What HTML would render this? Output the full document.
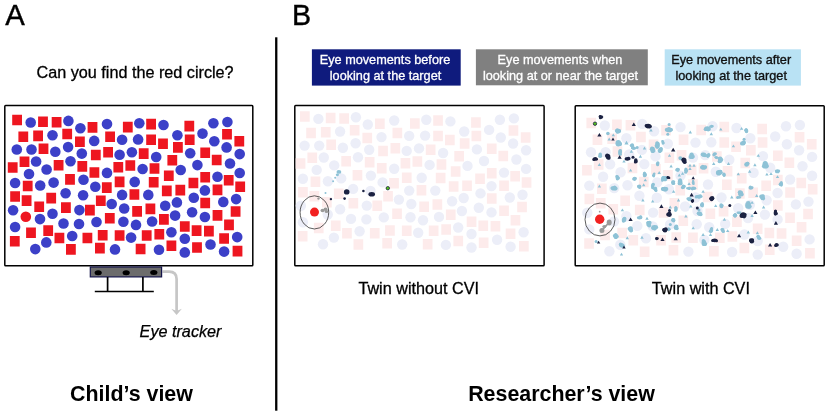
<!DOCTYPE html>
<html><head><meta charset="utf-8"><title>Figure</title>
<style>html,body{margin:0;padding:0;background:#fff}body{width:829px;height:415px;overflow:hidden}</style></head>
<body>
<svg width="829" height="415" viewBox="0 0 829 415" style="display:block;will-change:transform;font-family:'Liberation Sans',Arial,Helvetica,sans-serif">
<rect width="829" height="415" fill="#fff"/>
<text x="5.2" y="25.4" font-size="29.3" fill="#000" stroke="#000" stroke-width="0.4">A</text>
<text x="291.9" y="25.4" font-size="28.6" fill="#000" stroke="#000" stroke-width="0.4">B</text>
<text x="135.1" y="77.6" font-size="16.2" text-anchor="middle" fill="#000" stroke="#000" stroke-width="0.3">Can you find the red circle?</text>
<rect x="4.8" y="105.6" width="248" height="160.2" rx="0.8" fill="#fff" stroke="#000" stroke-width="1.5"/>
<path fill="#ee1620" d="M12.2 114.7h9.8v10.6h-9.8zM38.1 116.4h9.8v10.6h-9.8zM51.7 116.9h9.8v10.6h-9.8zM87.6 122.1h9.8v10.6h-9.8zM18.4 131.5h9.8v10.6h-9.8zM33.2 130.6h9.8v10.6h-9.8zM62.3 128.7h9.8v10.6h-9.8zM75 136.5h9.8v10.6h-9.8zM38.6 143.4h9.8v10.6h-9.8zM19.6 156.5h9.8v10.6h-9.8zM7.8 162.2h9.8v10.6h-9.8zM53.7 159.9h9.8v10.6h-9.8zM77.4 161.1h9.8v10.6h-9.8zM122.9 121.8h9.8v10.6h-9.8zM146.2 118.8h9.8v10.6h-9.8zM105.2 131.5h9.8v10.6h-9.8zM146.2 134.4h9.8v10.6h-9.8zM158.1 138.5h9.8v10.6h-9.8zM90.9 149.7h9.8v10.6h-9.8zM103.2 147h9.8v10.6h-9.8zM138.8 148.3h9.8v10.6h-9.8zM167.4 154.9h9.8v10.6h-9.8zM113.4 162h9.8v10.6h-9.8zM125.4 160.2h9.8v10.6h-9.8zM149.6 163.2h9.8v10.6h-9.8zM89.5 167.2h9.8v10.6h-9.8zM184.4 120.8h9.8v10.6h-9.8zM222.1 129h9.8v10.6h-9.8zM184.8 134.4h9.8v10.6h-9.8zM234.4 136h9.8v10.6h-9.8zM173 142.1h9.8v10.6h-9.8zM200.3 147.5h9.8v10.6h-9.8zM211.8 154.7h9.8v10.6h-9.8zM65.1 174.1h9.8v10.6h-9.8zM22.8 180.7h9.8v10.6h-9.8zM10.2 191.2h9.8v10.6h-9.8zM21.7 195.3h9.8v10.6h-9.8zM46.3 192.8h9.8v10.6h-9.8zM34.3 201.5h9.8v10.6h-9.8zM61 202.3h9.8v10.6h-9.8zM85 204.8h9.8v10.6h-9.8zM163.9 170.4h9.8v10.6h-9.8zM114.7 176.6h9.8v10.6h-9.8zM148.8 176.9h9.8v10.6h-9.8zM101.9 182.3h9.8v10.6h-9.8zM161.9 185.6h9.8v10.6h-9.8zM129.5 189.2h9.8v10.6h-9.8zM95.9 195.5h9.8v10.6h-9.8zM145.5 203.6h9.8v10.6h-9.8zM132.2 206.1h9.8v10.6h-9.8zM104.9 213h9.8v10.6h-9.8zM159 214.1h9.8v10.6h-9.8zM200.3 172h9.8v10.6h-9.8zM223.8 175h9.8v10.6h-9.8zM188.5 177.7h9.8v10.6h-9.8zM235.3 181.4h9.8v10.6h-9.8zM175.4 184.8h9.8v10.6h-9.8zM212.6 184.6h9.8v10.6h-9.8zM200.3 197.7h9.8v10.6h-9.8zM230.7 206.2h9.8v10.6h-9.8zM212.6 210.1h9.8v10.6h-9.8zM179.9 221.2h9.8v10.6h-9.8zM224.1 219.6h9.8v10.6h-9.8zM26.1 227.4h9.8v10.6h-9.8zM43.3 225.3h9.8v10.6h-9.8zM54.5 232.7h9.8v10.6h-9.8zM82.5 232.7h9.8v10.6h-9.8zM9.9 235.9h9.8v10.6h-9.8zM66 244.1h9.8v10.6h-9.8zM97.8 229.9h9.8v10.6h-9.8zM114.7 230.2h9.8v10.6h-9.8zM141.8 230.2h9.8v10.6h-9.8zM154.4 228.9h9.8v10.6h-9.8zM166.5 240.5h9.8v10.6h-9.8zM95 242.8h9.8v10.6h-9.8zM135.7 243.7h9.8v10.6h-9.8zM191.7 225.3h9.8v10.6h-9.8zM204 225.8h9.8v10.6h-9.8zM219.2 233.2h9.8v10.6h-9.8zM192.1 242.2h9.8v10.6h-9.8zM232.6 245.8h9.8v10.6h-9.8z"/>
<g fill="#3c40c8">
<circle cx="30.7" cy="122.5" r="5.3"/>
<circle cx="68.4" cy="120.9" r="5.3"/>
<circle cx="80.4" cy="128.2" r="5.3"/>
<circle cx="52.5" cy="135.3" r="5.3"/>
<circle cx="16.8" cy="149.5" r="5.3"/>
<circle cx="31.5" cy="149.5" r="5.3"/>
<circle cx="55.3" cy="151.7" r="5.3"/>
<circle cx="68.1" cy="147.1" r="5.3"/>
<circle cx="81.8" cy="153.6" r="5.3"/>
<circle cx="36.1" cy="161.5" r="5.3"/>
<circle cx="70.5" cy="161.3" r="5.3"/>
<circle cx="46.6" cy="169.5" r="5.3"/>
<circle cx="107" cy="124.1" r="5.3"/>
<circle cx="139.3" cy="123.3" r="5.3"/>
<circle cx="163.5" cy="125" r="5.3"/>
<circle cx="94.2" cy="140.9" r="5.3"/>
<circle cx="122.1" cy="139.7" r="5.3"/>
<circle cx="138.1" cy="139.4" r="5.3"/>
<circle cx="119.6" cy="154.8" r="5.3"/>
<circle cx="131.9" cy="152.3" r="5.3"/>
<circle cx="156.2" cy="157" r="5.3"/>
<circle cx="142.6" cy="169" r="5.3"/>
<circle cx="107" cy="172.9" r="5.3"/>
<circle cx="213.4" cy="123.3" r="5.3"/>
<circle cx="227.4" cy="122" r="5.3"/>
<circle cx="177.4" cy="135.3" r="5.3"/>
<circle cx="202.5" cy="133.6" r="5.3"/>
<circle cx="214.3" cy="141.3" r="5.3"/>
<circle cx="226.6" cy="147.4" r="5.3"/>
<circle cx="190.2" cy="153.3" r="5.3"/>
<circle cx="239.7" cy="154.1" r="5.3"/>
<circle cx="230" cy="163.5" r="5.3"/>
<circle cx="197.4" cy="165.1" r="5.3"/>
<circle cx="180.7" cy="170" r="5.3"/>
<circle cx="239.7" cy="173" r="5.3"/>
<circle cx="29" cy="174" r="5.3"/>
<circle cx="83.5" cy="179.8" r="5.3"/>
<circle cx="15.1" cy="183" r="5.3"/>
<circle cx="40.2" cy="185.5" r="5.3"/>
<circle cx="53.6" cy="182.6" r="5.3"/>
<circle cx="65.6" cy="193.2" r="5.3"/>
<circle cx="83.1" cy="195.3" r="5.3"/>
<circle cx="13.1" cy="210.2" r="5.3"/>
<circle cx="79.4" cy="210.1" r="5.3"/>
<circle cx="52.5" cy="213.8" r="5.3"/>
<circle cx="40" cy="219.1" r="5.3"/>
<circle cx="63.5" cy="223.5" r="5.3"/>
<circle cx="134.7" cy="181.9" r="5.3"/>
<circle cx="95.3" cy="186.7" r="5.3"/>
<circle cx="122.1" cy="194.9" r="5.3"/>
<circle cx="148.3" cy="194.9" r="5.3"/>
<circle cx="111.7" cy="204" r="5.3"/>
<circle cx="165.2" cy="205.7" r="5.3"/>
<circle cx="176.9" cy="202.4" r="5.3"/>
<circle cx="124.2" cy="208.5" r="5.3"/>
<circle cx="175.1" cy="215.6" r="5.3"/>
<circle cx="96.5" cy="222" r="5.3"/>
<circle cx="123.4" cy="221.8" r="5.3"/>
<circle cx="152.1" cy="221.5" r="5.3"/>
<circle cx="136" cy="224.9" r="5.3"/>
<circle cx="217.5" cy="176.8" r="5.3"/>
<circle cx="204.9" cy="190.4" r="5.3"/>
<circle cx="193.8" cy="197.8" r="5.3"/>
<circle cx="236.1" cy="199.1" r="5.3"/>
<circle cx="223.3" cy="201.9" r="5.3"/>
<circle cx="192.1" cy="212.2" r="5.3"/>
<circle cx="204.9" cy="217" r="5.3"/>
<circle cx="79" cy="224" r="5.3"/>
<circle cx="15.1" cy="227" r="5.3"/>
<circle cx="72.2" cy="236" r="5.3"/>
<circle cx="46.3" cy="242.4" r="5.3"/>
<circle cx="35.3" cy="249.1" r="5.3"/>
<circle cx="171.4" cy="232.2" r="5.3"/>
<circle cx="131.1" cy="237.6" r="5.3"/>
<circle cx="115" cy="249.4" r="5.3"/>
<circle cx="159" cy="249.8" r="5.3"/>
<circle cx="184.8" cy="238.8" r="5.3"/>
<circle cx="237.2" cy="237.1" r="5.3"/>
<circle cx="210.5" cy="244.5" r="5.3"/>
<circle cx="184.8" cy="252.4" r="5.3"/>
<circle cx="224.1" cy="251.6" r="5.3"/>
</g>
<circle cx="25.8" cy="216.7" r="5.3" fill="#ee1620"/>
<path d="M162.5 271.6h6.6q7.5 0 7.5 7.5v32" fill="none" stroke="#c6c6c6" stroke-width="2.7"/>
<path d="M176.6 315l-5.3-6.3l5.3 2.2l5.3-2.2z" fill="#c6c6c6"/>
<rect x="90.3" y="267" width="71.3" height="9.9" fill="#6c6c6c" stroke="#14144a" stroke-width="1.2"/>
<g fill="#000"><ellipse cx="98.2" cy="272.7" rx="3.6" ry="2.5"/><ellipse cx="126.2" cy="272.7" rx="3.6" ry="2.5"/><ellipse cx="153.8" cy="272.5" rx="3.6" ry="2.5"/></g>
<path d="M107.6 277v14.5M142.9 277v14.5M94.8 291.5h59" fill="none" stroke="#000" stroke-width="1.7"/>
<text x="139.6" y="336.6" font-size="16.2" font-style="italic" fill="#000" stroke="#000" stroke-width="0.25">Eye tracker</text>
<text x="131.5" y="401.2" font-size="21.4" font-weight="bold" text-anchor="middle" fill="#000">Child’s view</text>
<rect x="275.1" y="37.3" width="2.3" height="373.4" fill="#000"/>
<rect x="311.9" y="49.3" width="148.8" height="36.3" fill="#0f1b7d"/>
<rect x="475.9" y="49.3" width="171.9" height="36" fill="#808080"/>
<rect x="664.7" y="49.3" width="136.2" height="36.3" fill="#b9e2f4"/>
<g font-size="12.7" text-anchor="middle">
<g fill="#fff" stroke="#fff" stroke-width="0.3"><text x="385" y="64.3">Eye movements before</text><text x="385.5" y="79.7">looking at the target</text>
<text x="560" y="64.3">Eye movements when</text><text x="560.5" y="79.7">looking at or near the target</text></g>
<g fill="#111" stroke="#111" stroke-width="0.35"><text x="731.2" y="64.3">Eye movements after</text><text x="731.2" y="79.7">looking at the target</text></g>
</g>
<rect x="294.8" y="105.6" width="249.3" height="160.1" rx="0.8" fill="#fff" stroke="#000" stroke-width="1.5"/>
<path fill="#fdebeb" d="M300 111.2h9.7v10.5h-9.7zM325.8 112.8h9.7v10.5h-9.7zM339.3 113.3h9.7v10.5h-9.7zM375 118.5h9.7v10.5h-9.7zM306.2 127.8h9.7v10.5h-9.7zM320.9 126.9h9.7v10.5h-9.7zM349.8 125h9.7v10.5h-9.7zM362.4 132.7h9.7v10.5h-9.7zM326.3 139.6h9.7v10.5h-9.7zM307.4 152.5h9.7v10.5h-9.7zM295.7 158.2h9.7v10.5h-9.7zM341.3 155.9h9.7v10.5h-9.7zM364.8 157.1h9.7v10.5h-9.7zM410 118.2h9.7v10.5h-9.7zM433.2 115.2h9.7v10.5h-9.7zM392.5 127.8h9.7v10.5h-9.7zM433.2 130.7h9.7v10.5h-9.7zM445 134.7h9.7v10.5h-9.7zM378.2 145.8h9.7v10.5h-9.7zM390.5 143.1h9.7v10.5h-9.7zM425.8 144.4h9.7v10.5h-9.7zM454.3 151h9.7v10.5h-9.7zM400.6 158h9.7v10.5h-9.7zM412.5 156.2h9.7v10.5h-9.7zM436.6 159.2h9.7v10.5h-9.7zM376.9 163.1h9.7v10.5h-9.7zM471.1 117.2h9.7v10.5h-9.7zM508.6 125.3h9.7v10.5h-9.7zM471.5 130.7h9.7v10.5h-9.7zM520.8 132.2h9.7v10.5h-9.7zM459.8 138.3h9.7v10.5h-9.7zM486.9 143.6h9.7v10.5h-9.7zM498.4 150.8h9.7v10.5h-9.7zM352.6 170h9.7v10.5h-9.7zM310.6 176.5h9.7v10.5h-9.7zM298.1 186.9h9.7v10.5h-9.7zM309.5 190.9h9.7v10.5h-9.7zM333.9 188.5h9.7v10.5h-9.7zM322 197.1h9.7v10.5h-9.7zM348.5 197.9h9.7v10.5h-9.7zM372.4 200.4h9.7v10.5h-9.7zM450.8 166.3h9.7v10.5h-9.7zM401.9 172.4h9.7v10.5h-9.7zM435.8 172.7h9.7v10.5h-9.7zM389.2 178.1h9.7v10.5h-9.7zM448.8 181.3h9.7v10.5h-9.7zM416.6 184.9h9.7v10.5h-9.7zM383.2 191.1h9.7v10.5h-9.7zM432.5 199.2h9.7v10.5h-9.7zM419.3 201.6h9.7v10.5h-9.7zM392.2 208.5h9.7v10.5h-9.7zM445.9 209.6h9.7v10.5h-9.7zM486.9 167.9h9.7v10.5h-9.7zM510.3 170.9h9.7v10.5h-9.7zM475.2 173.5h9.7v10.5h-9.7zM521.7 177.2h9.7v10.5h-9.7zM462.2 180.6h9.7v10.5h-9.7zM499.2 180.4h9.7v10.5h-9.7zM486.9 193.3h9.7v10.5h-9.7zM517.2 201.7h9.7v10.5h-9.7zM499.2 205.6h9.7v10.5h-9.7zM466.7 216.6h9.7v10.5h-9.7zM510.6 215h9.7v10.5h-9.7zM313.9 222.7h9.7v10.5h-9.7zM330.9 220.6h9.7v10.5h-9.7zM342.1 228h9.7v10.5h-9.7zM369.9 228h9.7v10.5h-9.7zM297.8 231.1h9.7v10.5h-9.7zM353.5 239.3h9.7v10.5h-9.7zM385.1 225.2h9.7v10.5h-9.7zM401.9 225.5h9.7v10.5h-9.7zM428.8 225.5h9.7v10.5h-9.7zM441.3 224.2h9.7v10.5h-9.7zM453.4 235.7h9.7v10.5h-9.7zM382.3 238h9.7v10.5h-9.7zM422.8 238.9h9.7v10.5h-9.7zM478.4 220.6h9.7v10.5h-9.7zM490.6 221.1h9.7v10.5h-9.7zM505.7 228.5h9.7v10.5h-9.7zM478.8 237.4h9.7v10.5h-9.7zM519 240.9h9.7v10.5h-9.7z"/>
<g fill="#eceef8">
<circle cx="318.4" cy="118.9" r="5.2"/>
<circle cx="355.9" cy="117.3" r="5.2"/>
<circle cx="367.8" cy="124.5" r="5.2"/>
<circle cx="340.1" cy="131.5" r="5.2"/>
<circle cx="304.6" cy="145.6" r="5.2"/>
<circle cx="319.2" cy="145.6" r="5.2"/>
<circle cx="342.9" cy="147.8" r="5.2"/>
<circle cx="355.6" cy="143.2" r="5.2"/>
<circle cx="369.2" cy="149.7" r="5.2"/>
<circle cx="323.8" cy="157.5" r="5.2"/>
<circle cx="358" cy="157.3" r="5.2"/>
<circle cx="334.2" cy="165.4" r="5.2"/>
<circle cx="394.2" cy="120.5" r="5.2"/>
<circle cx="426.3" cy="119.7" r="5.2"/>
<circle cx="450.4" cy="121.4" r="5.2"/>
<circle cx="381.5" cy="137.1" r="5.2"/>
<circle cx="409.2" cy="135.9" r="5.2"/>
<circle cx="425.1" cy="135.6" r="5.2"/>
<circle cx="406.7" cy="150.9" r="5.2"/>
<circle cx="419" cy="148.4" r="5.2"/>
<circle cx="443.1" cy="153" r="5.2"/>
<circle cx="429.6" cy="164.9" r="5.2"/>
<circle cx="394.2" cy="168.8" r="5.2"/>
<circle cx="499.9" cy="119.7" r="5.2"/>
<circle cx="513.9" cy="118.4" r="5.2"/>
<circle cx="464.2" cy="131.5" r="5.2"/>
<circle cx="489.1" cy="129.9" r="5.2"/>
<circle cx="500.8" cy="137.5" r="5.2"/>
<circle cx="513.1" cy="143.5" r="5.2"/>
<circle cx="476.9" cy="149.4" r="5.2"/>
<circle cx="526.1" cy="150.2" r="5.2"/>
<circle cx="516.4" cy="159.5" r="5.2"/>
<circle cx="484" cy="161" r="5.2"/>
<circle cx="467.5" cy="165.9" r="5.2"/>
<circle cx="526.1" cy="168.9" r="5.2"/>
<circle cx="316.7" cy="169.9" r="5.2"/>
<circle cx="370.9" cy="175.6" r="5.2"/>
<circle cx="302.9" cy="178.8" r="5.2"/>
<circle cx="327.9" cy="181.2" r="5.2"/>
<circle cx="341.2" cy="178.4" r="5.2"/>
<circle cx="353.1" cy="188.9" r="5.2"/>
<circle cx="370.5" cy="190.9" r="5.2"/>
<circle cx="300.9" cy="205.7" r="5.2"/>
<circle cx="366.8" cy="205.6" r="5.2"/>
<circle cx="340.1" cy="209.3" r="5.2"/>
<circle cx="327.7" cy="214.5" r="5.2"/>
<circle cx="351" cy="218.9" r="5.2"/>
<circle cx="421.7" cy="177.7" r="5.2"/>
<circle cx="382.6" cy="182.4" r="5.2"/>
<circle cx="409.2" cy="190.6" r="5.2"/>
<circle cx="435.3" cy="190.6" r="5.2"/>
<circle cx="398.9" cy="199.6" r="5.2"/>
<circle cx="452.1" cy="201.2" r="5.2"/>
<circle cx="463.7" cy="198" r="5.2"/>
<circle cx="411.3" cy="204" r="5.2"/>
<circle cx="461.9" cy="211" r="5.2"/>
<circle cx="383.8" cy="217.4" r="5.2"/>
<circle cx="410.5" cy="217.2" r="5.2"/>
<circle cx="439" cy="216.9" r="5.2"/>
<circle cx="423" cy="220.3" r="5.2"/>
<circle cx="504" cy="172.6" r="5.2"/>
<circle cx="491.5" cy="186.1" r="5.2"/>
<circle cx="480.5" cy="193.4" r="5.2"/>
<circle cx="522.5" cy="194.7" r="5.2"/>
<circle cx="509.8" cy="197.5" r="5.2"/>
<circle cx="478.8" cy="207.7" r="5.2"/>
<circle cx="491.5" cy="212.4" r="5.2"/>
<circle cx="366.4" cy="219.4" r="5.2"/>
<circle cx="302.9" cy="222.3" r="5.2"/>
<circle cx="359.6" cy="231.2" r="5.2"/>
<circle cx="333.9" cy="237.6" r="5.2"/>
<circle cx="323" cy="244.2" r="5.2"/>
<circle cx="458.2" cy="227.5" r="5.2"/>
<circle cx="418.2" cy="232.8" r="5.2"/>
<circle cx="402.2" cy="244.5" r="5.2"/>
<circle cx="445.9" cy="244.9" r="5.2"/>
<circle cx="471.5" cy="234" r="5.2"/>
<circle cx="523.6" cy="232.3" r="5.2"/>
<circle cx="497.1" cy="239.7" r="5.2"/>
<circle cx="471.5" cy="247.5" r="5.2"/>
<circle cx="510.6" cy="246.7" r="5.2"/>
</g>
<ellipse cx="314.4" cy="212.4" rx="14.3" ry="16.6" fill="none" stroke="#333" stroke-width="0.8"/>
<circle cx="314.5" cy="212.1" r="4.5" fill="#f22020"/>
<g fill="#9a9a9a"><ellipse cx="322.5" cy="210.5" rx="2" ry="1.8"/><ellipse cx="325.5" cy="209.3" rx="2" ry="1.8"/><ellipse cx="326.5" cy="211.5" rx="1.8" ry="1.6"/><circle cx="318.5" cy="198.6" r="1.2"/></g>
<g fill="#8ec2d6"><ellipse cx="338.9" cy="171.9" rx="2.4" ry="1.9"/><ellipse cx="337.4" cy="174.8" rx="1.6" ry="1.4"/><circle cx="335.2" cy="177.8" r="1"/><circle cx="333.1" cy="181.3" r="1"/><circle cx="325.5" cy="193" r="1"/></g>
<g fill="#1b2242"><circle cx="330.9" cy="199.1" r="1.2"/><ellipse cx="346.7" cy="191.9" rx="2.8" ry="2.6"/><circle cx="344.6" cy="198.6" r="1.3"/><circle cx="363.4" cy="191" r="1.3"/><ellipse cx="371.7" cy="194.3" rx="3.3" ry="2.3"/></g>
<circle cx="387.8" cy="188.2" r="1.7" fill="#56c21e" stroke="#1b2242" stroke-width="0.8"/>
<text x="418.7" y="293.9" font-size="16.2" text-anchor="middle" fill="#000" stroke="#000" stroke-width="0.3">Twin without CVI</text>
<rect x="575.2" y="105.7" width="249" height="160.1" rx="0.8" fill="#fff" stroke="#000" stroke-width="1.5"/>
<path fill="#fdebeb" d="M586.4 117.8h9.7v10.5h-9.7zM612.1 119.4h9.7v10.5h-9.7zM625.6 119.9h9.7v10.5h-9.7zM661.2 125.1h9.7v10.5h-9.7zM592.6 134.5h9.7v10.5h-9.7zM607.3 133.6h9.7v10.5h-9.7zM636.1 131.7h9.7v10.5h-9.7zM648.7 139.4h9.7v10.5h-9.7zM612.6 146.3h9.7v10.5h-9.7zM593.8 159.3h9.7v10.5h-9.7zM582.1 165h9.7v10.5h-9.7zM627.6 162.7h9.7v10.5h-9.7zM651.1 163.9h9.7v10.5h-9.7zM696.3 124.8h9.7v10.5h-9.7zM719.4 121.8h9.7v10.5h-9.7zM678.7 134.5h9.7v10.5h-9.7zM719.4 137.3h9.7v10.5h-9.7zM731.2 141.4h9.7v10.5h-9.7zM664.5 152.5h9.7v10.5h-9.7zM676.7 149.9h9.7v10.5h-9.7zM712 151.2h9.7v10.5h-9.7zM740.4 157.7h9.7v10.5h-9.7zM686.8 164.8h9.7v10.5h-9.7zM698.7 163h9.7v10.5h-9.7zM722.7 166h9.7v10.5h-9.7zM663.1 169.9h9.7v10.5h-9.7zM757.3 123.8h9.7v10.5h-9.7zM794.7 132h9.7v10.5h-9.7zM757.7 137.3h9.7v10.5h-9.7zM806.9 138.9h9.7v10.5h-9.7zM746 145h9.7v10.5h-9.7zM773 150.4h9.7v10.5h-9.7zM784.5 157.5h9.7v10.5h-9.7zM638.9 176.8h9.7v10.5h-9.7zM597 183.4h9.7v10.5h-9.7zM584.5 193.8h9.7v10.5h-9.7zM595.9 197.9h9.7v10.5h-9.7zM620.3 195.4h9.7v10.5h-9.7zM608.4 204h9.7v10.5h-9.7zM634.9 204.8h9.7v10.5h-9.7zM658.7 207.3h9.7v10.5h-9.7zM736.9 173.1h9.7v10.5h-9.7zM688.1 179.3h9.7v10.5h-9.7zM722 179.6h9.7v10.5h-9.7zM675.4 184.9h9.7v10.5h-9.7zM735 188.2h9.7v10.5h-9.7zM702.8 191.8h9.7v10.5h-9.7zM669.5 198.1h9.7v10.5h-9.7zM718.7 206.1h9.7v10.5h-9.7zM705.5 208.6h9.7v10.5h-9.7zM678.4 215.5h9.7v10.5h-9.7zM732.1 216.6h9.7v10.5h-9.7zM773 174.7h9.7v10.5h-9.7zM796.4 177.7h9.7v10.5h-9.7zM761.3 180.4h9.7v10.5h-9.7zM807.8 184.1h9.7v10.5h-9.7zM748.3 187.4h9.7v10.5h-9.7zM785.2 187.2h9.7v10.5h-9.7zM773 200.3h9.7v10.5h-9.7zM803.2 208.7h9.7v10.5h-9.7zM785.2 212.6h9.7v10.5h-9.7zM752.8 223.6h9.7v10.5h-9.7zM796.7 222h9.7v10.5h-9.7zM600.2 229.8h9.7v10.5h-9.7zM617.3 227.7h9.7v10.5h-9.7zM628.4 235h9.7v10.5h-9.7zM656.2 235h9.7v10.5h-9.7zM584.2 238.2h9.7v10.5h-9.7zM639.8 246.4h9.7v10.5h-9.7zM671.4 232.3h9.7v10.5h-9.7zM688.1 232.6h9.7v10.5h-9.7zM715 232.6h9.7v10.5h-9.7zM727.5 231.3h9.7v10.5h-9.7zM739.5 242.8h9.7v10.5h-9.7zM668.6 245.1h9.7v10.5h-9.7zM709 246h9.7v10.5h-9.7zM764.5 227.7h9.7v10.5h-9.7zM776.7 228.2h9.7v10.5h-9.7zM791.8 235.5h9.7v10.5h-9.7zM764.9 244.5h9.7v10.5h-9.7zM805.1 248.1h9.7v10.5h-9.7z"/>
<g fill="#eceef8">
<circle cx="604.8" cy="125.5" r="5.2"/>
<circle cx="642.2" cy="123.9" r="5.2"/>
<circle cx="654.1" cy="131.2" r="5.2"/>
<circle cx="626.4" cy="138.2" r="5.2"/>
<circle cx="591" cy="152.3" r="5.2"/>
<circle cx="605.6" cy="152.3" r="5.2"/>
<circle cx="629.2" cy="154.5" r="5.2"/>
<circle cx="641.9" cy="149.9" r="5.2"/>
<circle cx="655.5" cy="156.4" r="5.2"/>
<circle cx="610.1" cy="164.3" r="5.2"/>
<circle cx="644.3" cy="164.1" r="5.2"/>
<circle cx="620.6" cy="172.2" r="5.2"/>
<circle cx="680.5" cy="127.1" r="5.2"/>
<circle cx="712.5" cy="126.3" r="5.2"/>
<circle cx="736.5" cy="128" r="5.2"/>
<circle cx="667.8" cy="143.8" r="5.2"/>
<circle cx="695.5" cy="142.6" r="5.2"/>
<circle cx="711.3" cy="142.3" r="5.2"/>
<circle cx="693" cy="157.6" r="5.2"/>
<circle cx="705.2" cy="155.1" r="5.2"/>
<circle cx="729.3" cy="159.8" r="5.2"/>
<circle cx="715.8" cy="171.7" r="5.2"/>
<circle cx="680.5" cy="175.6" r="5.2"/>
<circle cx="786" cy="126.3" r="5.2"/>
<circle cx="799.9" cy="125" r="5.2"/>
<circle cx="750.3" cy="138.2" r="5.2"/>
<circle cx="775.2" cy="136.5" r="5.2"/>
<circle cx="786.9" cy="144.2" r="5.2"/>
<circle cx="799.1" cy="150.2" r="5.2"/>
<circle cx="763" cy="156.1" r="5.2"/>
<circle cx="812.1" cy="156.9" r="5.2"/>
<circle cx="802.5" cy="166.2" r="5.2"/>
<circle cx="770.2" cy="167.8" r="5.2"/>
<circle cx="753.6" cy="172.7" r="5.2"/>
<circle cx="812.1" cy="175.7" r="5.2"/>
<circle cx="603.1" cy="176.7" r="5.2"/>
<circle cx="657.2" cy="182.4" r="5.2"/>
<circle cx="589.3" cy="185.6" r="5.2"/>
<circle cx="614.2" cy="188.1" r="5.2"/>
<circle cx="627.5" cy="185.2" r="5.2"/>
<circle cx="639.4" cy="195.8" r="5.2"/>
<circle cx="656.8" cy="197.8" r="5.2"/>
<circle cx="587.3" cy="212.7" r="5.2"/>
<circle cx="653.1" cy="212.6" r="5.2"/>
<circle cx="626.4" cy="216.2" r="5.2"/>
<circle cx="614" cy="221.5" r="5.2"/>
<circle cx="637.3" cy="225.9" r="5.2"/>
<circle cx="708" cy="184.5" r="5.2"/>
<circle cx="668.9" cy="189.3" r="5.2"/>
<circle cx="695.5" cy="197.5" r="5.2"/>
<circle cx="721.5" cy="197.5" r="5.2"/>
<circle cx="685.1" cy="206.5" r="5.2"/>
<circle cx="738.2" cy="208.2" r="5.2"/>
<circle cx="749.8" cy="204.9" r="5.2"/>
<circle cx="697.5" cy="211" r="5.2"/>
<circle cx="748" cy="218" r="5.2"/>
<circle cx="670.1" cy="224.4" r="5.2"/>
<circle cx="696.7" cy="224.2" r="5.2"/>
<circle cx="725.2" cy="223.9" r="5.2"/>
<circle cx="709.2" cy="227.3" r="5.2"/>
<circle cx="790.1" cy="179.5" r="5.2"/>
<circle cx="777.6" cy="193" r="5.2"/>
<circle cx="766.6" cy="200.3" r="5.2"/>
<circle cx="808.5" cy="201.6" r="5.2"/>
<circle cx="795.9" cy="204.4" r="5.2"/>
<circle cx="764.9" cy="214.6" r="5.2"/>
<circle cx="777.6" cy="219.4" r="5.2"/>
<circle cx="652.7" cy="226.4" r="5.2"/>
<circle cx="589.3" cy="229.4" r="5.2"/>
<circle cx="646" cy="238.3" r="5.2"/>
<circle cx="620.3" cy="244.7" r="5.2"/>
<circle cx="609.4" cy="251.3" r="5.2"/>
<circle cx="744.4" cy="234.5" r="5.2"/>
<circle cx="704.4" cy="239.9" r="5.2"/>
<circle cx="688.4" cy="251.6" r="5.2"/>
<circle cx="732.1" cy="252" r="5.2"/>
<circle cx="757.7" cy="241.1" r="5.2"/>
<circle cx="809.6" cy="239.4" r="5.2"/>
<circle cx="783.2" cy="246.8" r="5.2"/>
<circle cx="757.7" cy="254.6" r="5.2"/>
<circle cx="796.6" cy="253.8" r="5.2"/>
</g>
<g fill="#8ec2d6">
<circle cx="607.9" cy="133.5" r="1.8"/>
<ellipse cx="618.3" cy="131" rx="2.8" ry="2.3"/>
<circle cx="617.5" cy="132.2" r="1.6"/>
<circle cx="617.2" cy="129.9" r="1.6"/>
<circle cx="616.5" cy="130.7" r="1.7"/>
<ellipse cx="618.3" cy="143.3" rx="2.8" ry="3.2"/>
<circle cx="619.8" cy="144" r="2.1"/>
<circle cx="619.8" cy="143.8" r="2.1"/>
<circle cx="619.7" cy="144.2" r="1.9"/>
<ellipse cx="632.2" cy="145" rx="1.8" ry="1.8"/>
<circle cx="631.3" cy="145.5" r="1.6"/>
<circle cx="632.9" cy="145.7" r="1.3"/>
<ellipse cx="633.8" cy="148.3" rx="2.3" ry="1.8"/>
<circle cx="632.7" cy="147.5" r="1.6"/>
<circle cx="632.4" cy="147.8" r="1.4"/>
<circle cx="637.1" cy="147.4" r="1.5"/>
<ellipse cx="619.9" cy="152.4" rx="1.8" ry="3.2"/>
<circle cx="620.9" cy="152" r="1.2"/>
<circle cx="620.6" cy="150.4" r="1.3"/>
<circle cx="620.5" cy="154.4" r="1.3"/>
<ellipse cx="600.2" cy="154.8" rx="1.8" ry="2.3"/>
<circle cx="599.8" cy="156.2" r="1.6"/>
<circle cx="600.6" cy="156.2" r="1.5"/>
<ellipse cx="652.7" cy="149.9" rx="2.3" ry="3.2"/>
<circle cx="651.9" cy="148.1" r="1.7"/>
<circle cx="651.4" cy="149.2" r="1.6"/>
<circle cx="653.9" cy="150.7" r="1.6"/>
<ellipse cx="657.6" cy="145" rx="2.3" ry="3.2"/>
<circle cx="657" cy="142.9" r="1.7"/>
<circle cx="657.1" cy="147.1" r="1.8"/>
<circle cx="656.3" cy="145.7" r="1.7"/>
<circle cx="660" cy="151.5" r="1.5"/>
<ellipse cx="657.6" cy="163.8" rx="1.8" ry="1.8"/>
<circle cx="657.9" cy="162.8" r="1.5"/>
<circle cx="657.6" cy="164.8" r="1.5"/>
<circle cx="669.1" cy="124.5" r="1.5"/>
<ellipse cx="669.1" cy="129.9" rx="3.2" ry="2.3"/>
<circle cx="666.8" cy="129.7" r="2"/>
<circle cx="668.8" cy="128.6" r="1.7"/>
<circle cx="671.4" cy="129.7" r="1.6"/>
<circle cx="667.8" cy="134.3" r="1.5"/>
<ellipse cx="707.2" cy="128.6" rx="2.8" ry="2.3"/>
<circle cx="705.6" cy="129.2" r="1.9"/>
<circle cx="708.2" cy="129.7" r="1.8"/>
<circle cx="709" cy="128.9" r="1.9"/>
<ellipse cx="711.3" cy="126.6" rx="2.3" ry="1.4"/>
<circle cx="711.5" cy="125.8" r="1.1"/>
<circle cx="712.6" cy="126" r="1"/>
<ellipse cx="746.5" cy="131" rx="1.8" ry="2.3"/>
<circle cx="746.1" cy="129.5" r="1.5"/>
<circle cx="745.6" cy="130.3" r="1.4"/>
<circle cx="744.1" cy="139.2" r="1.5"/>
<ellipse cx="743.2" cy="143.3" rx="2.3" ry="2.3"/>
<circle cx="743.9" cy="142.2" r="2"/>
<circle cx="741.9" cy="143.5" r="1.9"/>
<ellipse cx="662.9" cy="142.5" rx="1.4" ry="2.3"/>
<circle cx="663.6" cy="143.2" r="1.1"/>
<circle cx="662.4" cy="141.1" r="1.2"/>
<ellipse cx="660.5" cy="149.9" rx="2.3" ry="2.3"/>
<circle cx="661.1" cy="148.7" r="1.7"/>
<circle cx="659.5" cy="150.8" r="1.9"/>
<ellipse cx="680.1" cy="158.1" rx="1.8" ry="1.8"/>
<circle cx="681.1" cy="158.2" r="1.4"/>
<circle cx="680.6" cy="159" r="1.3"/>
<ellipse cx="691.6" cy="155.6" rx="2.3" ry="3.2"/>
<circle cx="692.8" cy="156.4" r="1.9"/>
<circle cx="692.5" cy="157.3" r="1.7"/>
<circle cx="690.6" cy="157.1" r="2"/>
<ellipse cx="703.9" cy="154.8" rx="2.3" ry="2.3"/>
<circle cx="705" cy="155.4" r="1.8"/>
<circle cx="702.7" cy="154.4" r="2"/>
<ellipse cx="708" cy="155.6" rx="2.3" ry="1.8"/>
<circle cx="708.7" cy="154.6" r="1.6"/>
<circle cx="707.7" cy="156.6" r="1.4"/>
<ellipse cx="714.6" cy="154" rx="1.8" ry="1.8"/>
<circle cx="713.9" cy="154.8" r="1.6"/>
<circle cx="715.6" cy="153.7" r="1.3"/>
<ellipse cx="716.2" cy="157.3" rx="1.8" ry="1.4"/>
<circle cx="716.8" cy="158" r="1"/>
<circle cx="716.3" cy="158.1" r="1.1"/>
<ellipse cx="720.3" cy="159.7" rx="2.3" ry="3.2"/>
<circle cx="719.2" cy="158.5" r="1.7"/>
<circle cx="721.6" cy="159.8" r="1.7"/>
<circle cx="719.4" cy="161.4" r="1.8"/>
<ellipse cx="703.6" cy="167.5" rx="2.8" ry="2.3"/>
<circle cx="705.3" cy="167.1" r="1.9"/>
<circle cx="701.8" cy="167.4" r="1.8"/>
<circle cx="702.8" cy="166.3" r="1.6"/>
<ellipse cx="746.5" cy="164.5" rx="2.3" ry="2.3"/>
<circle cx="747.6" cy="163.7" r="1.9"/>
<circle cx="747.4" cy="163.6" r="1.9"/>
<ellipse cx="765.2" cy="164.7" rx="2.8" ry="3.7"/>
<circle cx="764" cy="166.3" r="2.1"/>
<circle cx="766.5" cy="166.3" r="2.2"/>
<circle cx="766.7" cy="165.7" r="1.9"/>
<ellipse cx="777.5" cy="171.1" rx="2.8" ry="1.8"/>
<circle cx="778" cy="172.1" r="1.3"/>
<circle cx="776.4" cy="172" r="1.2"/>
<ellipse cx="644.5" cy="174.4" rx="1.8" ry="2.8"/>
<circle cx="645.5" cy="174.4" r="1.3"/>
<circle cx="645.3" cy="175.6" r="1.4"/>
<ellipse cx="617.4" cy="177.7" rx="1.8" ry="2.8"/>
<circle cx="618.4" cy="178" r="1.6"/>
<circle cx="616.6" cy="176.4" r="1.3"/>
<ellipse cx="634.7" cy="178.5" rx="2.3" ry="1.8"/>
<circle cx="634.7" cy="179.5" r="1.4"/>
<circle cx="633.7" cy="179.3" r="1.3"/>
<ellipse cx="653.8" cy="175.2" rx="1.4" ry="2.3"/>
<circle cx="654.3" cy="173.7" r="1.2"/>
<circle cx="653" cy="175.6" r="1.1"/>
<ellipse cx="662.5" cy="179.3" rx="1.4" ry="2.3"/>
<circle cx="663.2" cy="180.2" r="0.9"/>
<circle cx="662.1" cy="180.8" r="1"/>
<ellipse cx="613.8" cy="188.3" rx="2.8" ry="2.3"/>
<circle cx="614.7" cy="187.1" r="1.6"/>
<circle cx="615.6" cy="188.5" r="2"/>
<circle cx="612" cy="188.1" r="1.6"/>
<ellipse cx="639.6" cy="186.7" rx="1.8" ry="2.3"/>
<circle cx="638.6" cy="186.3" r="1.2"/>
<circle cx="638.6" cy="186.4" r="1.6"/>
<ellipse cx="652.7" cy="185.9" rx="1.8" ry="2.8"/>
<circle cx="653.4" cy="184.3" r="1.5"/>
<circle cx="652.6" cy="187.9" r="1.4"/>
<ellipse cx="655.5" cy="189.1" rx="1.8" ry="2.3"/>
<circle cx="656" cy="190.4" r="1.5"/>
<circle cx="654.5" cy="188.8" r="1.5"/>
<ellipse cx="624" cy="220" rx="2.3" ry="2.3"/>
<circle cx="623.4" cy="221.1" r="1.6"/>
<circle cx="624.5" cy="218.8" r="2"/>
<ellipse cx="639.6" cy="217.8" rx="2.8" ry="1.8"/>
<circle cx="640.8" cy="217" r="1.6"/>
<circle cx="640.5" cy="216.8" r="1.5"/>
<ellipse cx="677.7" cy="169.5" rx="2.3" ry="1.8"/>
<circle cx="677.9" cy="170.5" r="1.4"/>
<circle cx="676.7" cy="170.3" r="1.2"/>
<ellipse cx="685.9" cy="170.3" rx="1.8" ry="2.8"/>
<circle cx="686.9" cy="170.7" r="1.3"/>
<circle cx="685.8" cy="172.3" r="1.5"/>
<ellipse cx="718.7" cy="172.8" rx="2.8" ry="2.8"/>
<circle cx="720.2" cy="172.4" r="2.1"/>
<circle cx="720.2" cy="172.2" r="2.4"/>
<circle cx="720.2" cy="172.4" r="2.1"/>
<ellipse cx="723.9" cy="174.4" rx="1.8" ry="1.8"/>
<circle cx="724.1" cy="175.4" r="1.3"/>
<circle cx="724.2" cy="175.4" r="1.3"/>
<ellipse cx="664.6" cy="179" rx="2.8" ry="2.3"/>
<circle cx="663.3" cy="178.1" r="2"/>
<circle cx="665.6" cy="177.9" r="1.8"/>
<circle cx="663.6" cy="177.9" r="1.9"/>
<ellipse cx="672.8" cy="182.6" rx="1.8" ry="2.3"/>
<circle cx="673.7" cy="183.4" r="1.5"/>
<circle cx="673.7" cy="181.8" r="1.5"/>
<ellipse cx="680.1" cy="181.8" rx="2.3" ry="2.8"/>
<circle cx="680.1" cy="180" r="1.8"/>
<circle cx="680.7" cy="183.4" r="1.9"/>
<circle cx="679.5" cy="183.4" r="1.9"/>
<ellipse cx="683.4" cy="186.7" rx="1.8" ry="2.3"/>
<circle cx="684.4" cy="186.4" r="1.4"/>
<circle cx="682.5" cy="187.6" r="1.6"/>
<ellipse cx="693.2" cy="182.6" rx="1.4" ry="2.3"/>
<circle cx="693.1" cy="180.8" r="1"/>
<circle cx="693.7" cy="183.9" r="1"/>
<ellipse cx="688.3" cy="188.3" rx="2.3" ry="1.4"/>
<circle cx="689.8" cy="187.9" r="1.2"/>
<circle cx="689.4" cy="188.9" r="1.2"/>
<ellipse cx="693.2" cy="188.3" rx="2.3" ry="1.8"/>
<circle cx="694.7" cy="188.2" r="1.5"/>
<circle cx="692.3" cy="189.1" r="1.4"/>
<ellipse cx="664.6" cy="189.1" rx="2.8" ry="2.3"/>
<circle cx="665.8" cy="190.1" r="1.5"/>
<circle cx="666.4" cy="188.9" r="1.9"/>
<circle cx="662.8" cy="188.9" r="2"/>
<ellipse cx="699" cy="196.5" rx="3.7" ry="1.8"/>
<circle cx="696.2" cy="196.9" r="1.6"/>
<circle cx="700.4" cy="195.6" r="1.3"/>
<circle cx="699" cy="197.5" r="1.3"/>
<ellipse cx="689.1" cy="198.7" rx="2.8" ry="1.8"/>
<circle cx="689.2" cy="199.7" r="1.5"/>
<circle cx="689" cy="199.7" r="1.4"/>
<ellipse cx="740.8" cy="193.2" rx="2.3" ry="2.8"/>
<circle cx="741.7" cy="194.5" r="2"/>
<circle cx="740" cy="194.6" r="1.8"/>
<circle cx="739.7" cy="192.3" r="2"/>
<ellipse cx="739.1" cy="197.3" rx="2.3" ry="1.4"/>
<circle cx="737.5" cy="197.7" r="1.2"/>
<circle cx="737.3" cy="197.3" r="1.1"/>
<ellipse cx="702.3" cy="204.7" rx="1.8" ry="2.8"/>
<circle cx="701.3" cy="204.4" r="1.2"/>
<circle cx="701.3" cy="205.5" r="1.3"/>
<ellipse cx="721.1" cy="205.5" rx="1.8" ry="2.3"/>
<circle cx="722.1" cy="205.5" r="1.6"/>
<circle cx="721.6" cy="206.9" r="1.4"/>
<ellipse cx="676" cy="209.1" rx="1.8" ry="2.3"/>
<circle cx="675.8" cy="207.6" r="1.5"/>
<circle cx="675.5" cy="210.5" r="1.4"/>
<circle cx="699" cy="210.1" r="1.5"/>
<ellipse cx="699.8" cy="213.7" rx="2.3" ry="2.3"/>
<circle cx="698.6" cy="213.3" r="1.9"/>
<circle cx="700.8" cy="214.5" r="1.8"/>
<ellipse cx="735" cy="215.4" rx="2.3" ry="1.8"/>
<circle cx="735" cy="216.4" r="1.3"/>
<circle cx="735.2" cy="214.4" r="1.4"/>
<ellipse cx="739.1" cy="212.9" rx="1.8" ry="1.4"/>
<circle cx="737.9" cy="212.6" r="1.2"/>
<circle cx="740.2" cy="212.5" r="1.1"/>
<ellipse cx="673.6" cy="220.3" rx="1.8" ry="2.3"/>
<circle cx="672.8" cy="219.3" r="1.4"/>
<circle cx="672.6" cy="220.2" r="1.5"/>
<circle cx="670.3" cy="224.4" r="1.5"/>
<ellipse cx="781.3" cy="183.9" rx="1.8" ry="2.8"/>
<circle cx="780.3" cy="184.5" r="1.4"/>
<circle cx="780.3" cy="184.2" r="1.6"/>
<ellipse cx="750.8" cy="188" rx="2.3" ry="1.8"/>
<circle cx="750.3" cy="187" r="1.6"/>
<circle cx="752.2" cy="187.6" r="1.3"/>
<ellipse cx="762.4" cy="197.3" rx="2.3" ry="2.8"/>
<circle cx="761.2" cy="196.6" r="2"/>
<circle cx="763.1" cy="195.8" r="1.6"/>
<circle cx="763.3" cy="198.6" r="1.8"/>
<ellipse cx="748" cy="205.5" rx="2.8" ry="3.2"/>
<circle cx="749.4" cy="206.4" r="2"/>
<circle cx="749.4" cy="206.4" r="2.2"/>
<circle cx="748.3" cy="203.5" r="2.4"/>
<ellipse cx="648.6" cy="224" rx="2.3" ry="2.8"/>
<circle cx="649.3" cy="225.5" r="1.9"/>
<circle cx="647.9" cy="222.5" r="1.6"/>
<circle cx="649.6" cy="222.8" r="2"/>
<ellipse cx="654.3" cy="227.3" rx="2.8" ry="2.3"/>
<circle cx="654.6" cy="228.6" r="2"/>
<circle cx="652.8" cy="228.1" r="1.8"/>
<circle cx="656.1" cy="227.2" r="2"/>
<ellipse cx="630.6" cy="229" rx="2.3" ry="2.8"/>
<circle cx="631.3" cy="230.5" r="1.8"/>
<circle cx="629.3" cy="228.8" r="1.7"/>
<circle cx="631" cy="230.7" r="1.7"/>
<ellipse cx="615.8" cy="236.3" rx="2.3" ry="2.8"/>
<circle cx="615.6" cy="234.5" r="1.5"/>
<circle cx="614.6" cy="235.7" r="1.8"/>
<circle cx="617.1" cy="236.5" r="1.7"/>
<circle cx="596.1" cy="241.6" r="1.5"/>
<ellipse cx="621.5" cy="245.3" rx="2.3" ry="2.3"/>
<circle cx="620.6" cy="244.4" r="1.8"/>
<circle cx="622.7" cy="245.8" r="2"/>
<ellipse cx="676" cy="227.8" rx="2.3" ry="2.3"/>
<circle cx="676.3" cy="226.5" r="2"/>
<circle cx="677" cy="228.6" r="1.7"/>
<ellipse cx="668.7" cy="229" rx="1.4" ry="1.8"/>
<circle cx="669.5" cy="229.3" r="1.2"/>
<circle cx="668.6" cy="230.3" r="1"/>
<ellipse cx="711.3" cy="230.3" rx="1.8" ry="2.8"/>
<circle cx="710.4" cy="231.3" r="1.6"/>
<circle cx="711.7" cy="228.4" r="1.3"/>
<ellipse cx="722.8" cy="230.3" rx="1.8" ry="2.3"/>
<circle cx="723.4" cy="231.5" r="1.6"/>
<circle cx="721.9" cy="229.6" r="1.5"/>
<ellipse cx="703.9" cy="242.9" rx="2.3" ry="3.2"/>
<circle cx="705" cy="244.1" r="1.6"/>
<circle cx="703.4" cy="240.8" r="1.7"/>
<circle cx="705.1" cy="243.9" r="2"/>
<ellipse cx="758.7" cy="237.5" rx="1.8" ry="2.3"/>
<circle cx="758" cy="236.3" r="1.6"/>
<circle cx="759.6" cy="238.3" r="1.6"/>
<path d="M613.3 133.4l1.7 2.9h-3.4zM609.2 137.5l1.7 2.9h-3.4zM626.5 140.8l2.1 3.6h-4.2zM644.5 146.6l1.7 2.9h-3.4zM631.4 149.8l1.7 2.9h-3.4zM640.4 154.8l1.7 2.9h-3.4zM651 128.5l1.7 2.9h-3.4zM599.4 163l1.7 2.9h-3.4zM624 159.7l1.7 2.9h-3.4zM630.6 168.7l1.7 2.9h-3.4zM690.3 130.5l1.7 2.9h-3.4zM711.3 132.3l1.7 2.9h-3.4zM720.8 127.7l1.7 2.9h-3.4zM741.6 126.9l1.7 2.9h-3.4zM733.4 144.4l1.7 2.9h-3.4zM669.5 153.9l1.7 2.9h-3.4zM690 163.8l1.7 2.9h-3.4zM694 163.8l1.7 2.9h-3.4zM713.7 162.1l1.7 2.9h-3.4zM728.5 162.1l1.7 2.9h-3.4zM671.1 164.6l1.7 2.9h-3.4zM758.3 153.9l1.7 2.9h-3.4zM754.9 163.3l1.7 2.9h-3.4zM749.7 169.8l1.7 2.9h-3.4zM645.3 178.4l1.7 2.9h-3.4zM659.2 171.1l1.7 2.9h-3.4zM599.4 184.5l1.7 2.9h-3.4zM643.7 183.3l1.7 2.9h-3.4zM642.9 198.6l1.7 2.9h-3.4zM652.7 199.7l1.7 2.9h-3.4zM622.4 208.4l1.7 2.9h-3.4zM647 216.8l1.7 2.9h-3.4zM690 167l1.7 2.9h-3.4zM738.3 172.4l1.7 2.9h-3.4zM679.3 173.5l1.7 2.9h-3.4zM682.6 171.9l1.7 2.9h-3.4zM689.1 182.2l1.7 2.9h-3.4zM673.6 189.9l1.7 2.9h-3.4zM703.1 189.9l1.7 2.9h-3.4zM678.5 198.6l1.7 2.9h-3.4zM731.8 195.6l1.7 2.9h-3.4zM715.7 204.2l1.7 2.9h-3.4zM690.8 204.7l1.7 2.9h-3.4zM670.3 205.5l1.7 2.9h-3.4zM685.9 214.5l1.7 2.9h-3.4zM724.4 217.8l1.7 2.9h-3.4zM766.9 172.7l1.7 2.9h-3.4zM771 172.2l1.7 2.9h-3.4zM777.5 175.2l1.7 2.9h-3.4zM756.7 194l1.7 2.9h-3.4zM752.1 200.9l1.7 2.9h-3.4zM763.6 205.5l1.7 2.9h-3.4zM752.1 214l1.7 2.9h-3.4zM627.3 236.3l1.7 2.9h-3.4zM642 235.8l1.7 2.9h-3.4zM621.5 252.7l1.7 2.9h-3.4zM693.2 226.4l1.7 2.9h-3.4zM717.3 228.1l1.7 2.9h-3.4zM727.7 229.2l1.7 2.9h-3.4zM703.1 233l1.7 2.9h-3.4zM710.5 233l1.7 2.9h-3.4zM748.3 230.5l1.7 2.9h-3.4zM757.4 231.3l1.7 2.9h-3.4z"/>
</g>
<g fill="#1b2242">
<ellipse cx="601" cy="117.1" rx="2.3" ry="1.8"/>
<circle cx="600.3" cy="118" r="1.3"/>
<circle cx="600.1" cy="116.2" r="1.3"/>
<ellipse cx="648.1" cy="126.1" rx="2.8" ry="2.3"/>
<circle cx="646.3" cy="125.8" r="1.7"/>
<circle cx="649.8" cy="126.6" r="1.8"/>
<circle cx="649.9" cy="126.4" r="1.8"/>
<ellipse cx="595.3" cy="158.9" rx="2.3" ry="1.8"/>
<circle cx="596.7" cy="159.3" r="1.3"/>
<circle cx="593.9" cy="159.4" r="1.6"/>
<ellipse cx="608.1" cy="156.8" rx="2.3" ry="2.8"/>
<circle cx="609" cy="158.1" r="1.6"/>
<circle cx="607.2" cy="155.5" r="2"/>
<circle cx="606.9" cy="156" r="1.7"/>
<ellipse cx="627.3" cy="158.9" rx="2.8" ry="1.8"/>
<circle cx="629.3" cy="158.7" r="1.2"/>
<circle cx="628.6" cy="158.1" r="1.3"/>
<circle cx="633" cy="157.3" r="1.5"/>
<ellipse cx="635.8" cy="160.6" rx="1.8" ry="2.3"/>
<circle cx="636.4" cy="161.8" r="1.3"/>
<circle cx="635.4" cy="162" r="1.6"/>
<ellipse cx="684.2" cy="160.6" rx="2.3" ry="2.8"/>
<circle cx="684.8" cy="162.2" r="1.8"/>
<circle cx="683.4" cy="159.2" r="1.7"/>
<circle cx="682.9" cy="160.1" r="1.6"/>
<ellipse cx="668.2" cy="177.7" rx="1.8" ry="1.4"/>
<circle cx="669.4" cy="178" r="1"/>
<circle cx="667.7" cy="177" r="1"/>
<ellipse cx="712.1" cy="198.2" rx="2.3" ry="2.3"/>
<circle cx="711.6" cy="199.4" r="1.8"/>
<circle cx="710.8" cy="198.6" r="1.7"/>
<ellipse cx="692.4" cy="201" rx="1.8" ry="1.4"/>
<circle cx="692.8" cy="200.2" r="1.1"/>
<circle cx="692.4" cy="201.8" r="1.1"/>
<circle cx="729.8" cy="205.5" r="1.5"/>
<circle cx="697.3" cy="208" r="1.5"/>
<circle cx="669.5" cy="210.5" r="1.5"/>
<ellipse cx="669.5" cy="214.6" rx="2.3" ry="2.3"/>
<circle cx="668.2" cy="214.4" r="2"/>
<circle cx="669.3" cy="213.3" r="1.7"/>
<ellipse cx="743.2" cy="215" rx="2.8" ry="2.8"/>
<circle cx="744.8" cy="214.8" r="1.9"/>
<circle cx="741.8" cy="215.8" r="2.3"/>
<circle cx="744.1" cy="216.3" r="2.1"/>
<ellipse cx="775.4" cy="212.9" rx="1.8" ry="2.8"/>
<circle cx="776.4" cy="213.4" r="1.5"/>
<circle cx="775.5" cy="210.9" r="1.5"/>
<ellipse cx="656.8" cy="238.8" rx="1.8" ry="1.4"/>
<circle cx="657.7" cy="238.2" r="1"/>
<circle cx="656.4" cy="238.1" r="1.1"/>
<ellipse cx="665" cy="230.3" rx="2.3" ry="2.3"/>
<circle cx="663.9" cy="229.7" r="1.8"/>
<circle cx="665.7" cy="229.2" r="2"/>
<ellipse cx="714.6" cy="240.4" rx="2.8" ry="1.8"/>
<circle cx="712.6" cy="240.6" r="1.5"/>
<circle cx="716.5" cy="240.8" r="1.5"/>
<ellipse cx="751.8" cy="241.2" rx="2.3" ry="2.3"/>
<circle cx="751" cy="240.2" r="2"/>
<circle cx="752.4" cy="240" r="1.7"/>
<ellipse cx="776.4" cy="244.9" rx="1.8" ry="1.8"/>
<circle cx="775.6" cy="245.6" r="1.5"/>
<circle cx="777.4" cy="245" r="1.4"/>
<path d="M599.4 133l2.1 3.6h-4.2zM633.8 122.4l2.1 3.6h-4.2zM613 137.5l1.7 2.9h-3.4zM619.6 155.2l2.1 3.6h-4.2zM673.2 147.7l2.2 3.8h-4.4zM661.4 204.3l2.1 3.6h-4.2zM630.6 217.4l2.1 3.6h-4.2zM691.6 192.8l2.1 3.6h-4.2zM693.2 176.3l1.7 2.9h-3.4zM755.4 210.5l2.1 3.6h-4.2zM775.9 221.1l2.1 3.6h-4.2zM598.6 240.7l1.7 2.9h-3.4zM624 245.6l1.7 2.9h-3.4zM662.5 237.5l2.1 3.6h-4.2zM675.7 236.7l2.1 3.6h-4.2zM739.1 233.7l2.1 3.6h-4.2zM770.1 242.9l2.1 3.6h-4.2z"/>
</g>
<ellipse cx="600" cy="219.5" rx="15" ry="16.4" fill="none" stroke="#333" stroke-width="0.8"/>
<circle cx="599.7" cy="219.3" r="4.7" fill="#f22020"/>
<path d="M609 222.5L602.3 230" stroke="#9a9a9a" stroke-width="1.8" fill="none"/><g fill="#9a9a9a"><ellipse cx="609.2" cy="222.4" rx="2.5" ry="3"/><ellipse cx="604.3" cy="226.5" rx="2" ry="1.5"/><ellipse cx="601.9" cy="230.6" rx="2.5" ry="2.5"/><circle cx="599.7" cy="211.7" r="0.9"/></g>
<circle cx="595" cy="123.7" r="1.7" fill="#56c21e" stroke="#1b2242" stroke-width="0.8"/>
<text x="700.9" y="293.9" font-size="16.2" text-anchor="middle" fill="#000" stroke="#000" stroke-width="0.3">Twin with CVI</text>
<text x="561.5" y="401.2" font-size="21.4" font-weight="bold" text-anchor="middle" fill="#000">Researcher’s view</text>
</svg>
</body></html>
